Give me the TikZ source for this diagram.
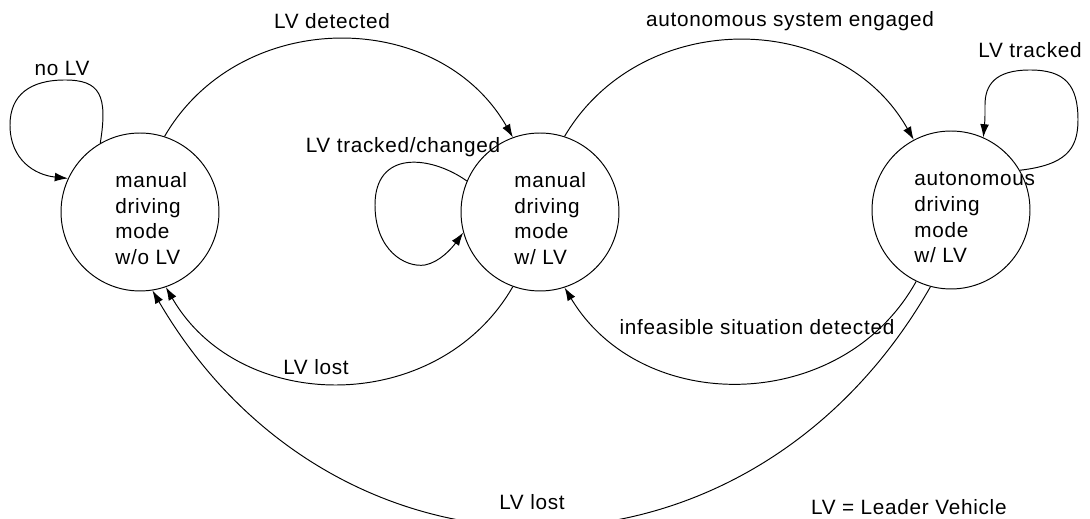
\documentclass[tikz,border=0pt]{standalone}
\usepackage{fontspec}
\setmainfont{Liberation Sans}[LetterSpace=3.5]
\usetikzlibrary{arrows.meta,calc}
\tikzset{
  state/.style={draw,circle,minimum size=3.16cm,inner sep=0pt,line width=0.55pt},
  statetext/.style={anchor=north west,align=left,inner sep=0pt},
  trans/.style={-{Latex[length=7.5pt,width=5pt]},line width=0.55pt},
  lbl/.style={inner sep=1pt}
}

\begin{document}
\begin{tikzpicture}[x=0.02cm,y=-0.02cm,font=\fontsize{11.8}{14.6}\selectfont]
\useasboundingbox (0,0) rectangle (1090,519);
\clip (0,0) rectangle (1090,519);
% states
\node[state] (mwo) at (140,212) {};
\node[state] (mw) at (540,212) {};
\node[state] (aw) at (951,210) {};
\node[statetext] (mwo-t) at ($(mwo.center)+(-25,-40)$) {manual\\driving\\mode\\w/o LV};
\node[statetext] (mw-t) at ($(mw.center)+(-26,-40)$) {manual\\driving\\mode\\w/ LV};
\node[statetext] (aw-t) at ($(aw.center)+(-37,-38)$) {autonomous\\driving\\mode\\w/ LV};
% transitions
\draw[trans] (mwo.72) to[bend left=60,looseness=1.1] (mw.110);
\draw[trans] (mw.72) to[bend left=60,looseness=1.1] (aw.118);
\draw[trans] (aw.244) to[bend left=60,looseness=1.1] (mw.288);
\draw[trans] (mw.250) to[bend left=60,looseness=1.1] (mwo.289);
\draw[trans] (aw.255) to[bend left=60,looseness=1.2] (mwo.279);
% self loops
\draw[trans] (mwo.120) .. controls (108,95) and (100,80) .. (65,80)
  .. controls (30,80) and (10,95) .. (10,125)
  .. controls (10,160) and (35,175) .. (mwo.155);
\draw[trans] (mw.157) .. controls (430,155) and (375,150) .. (375,205)
  .. controls (375,250) and (405,268) .. (425,265)
  .. controls (440,262) and (452,248) .. (mw.195);
\draw[trans] (aw.30) .. controls (1065,165) and (1078,150) .. (1078,120)
  .. controls (1078,85) and (1065,70) .. (1030,70)
  .. controls (995,70) and (985,85) .. (985,105)
  .. controls (985,120) .. (aw.66);
% labels
\node[lbl] (l-nolv) at (62,68) {no LV};
\node[lbl] (l-det) at (332,21) {LV detected};
\node[lbl] (l-eng) at (790,21) {autonomous system engaged};
\node[lbl] (l-trk) at (1030,50) {LV tracked};
\node[lbl] (l-chg) at (403,147) {LV tracked/changed};
\node[lbl] (l-inf) at (757,327) {infeasible situation detected};
\node[lbl] (l-lost) at (316,367) {LV lost};
\node[lbl] (l-lost2) at (532,502) {LV lost};
\node[lbl,anchor=west] (l-key) at (809,507) {LV = Leader Vehicle};
\end{tikzpicture}
\end{document}
